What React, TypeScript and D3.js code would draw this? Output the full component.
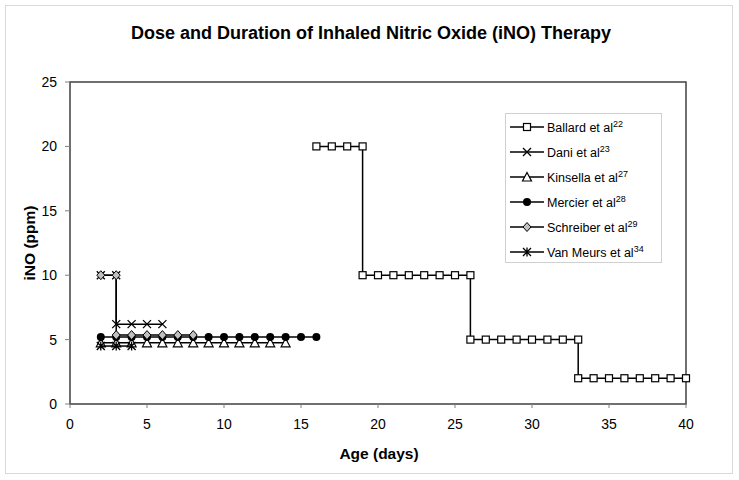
import React from "react";
import * as d3 from "d3";

const title = "Dose and Duration of Inhaled Nitric Oxide (iNO) Therapy";
const xTicks = [0, 5, 10, 15, 20, 25, 30, 35, 40];
const yTicks = [0, 5, 10, 15, 20, 25];

const ballardDays = [16, 17, 18, 19, 19, 20, 21, 22, 23, 24, 25, 26, 26, 27, 28, 29, 30, 31, 32, 33, 33, 34, 35, 36, 37, 38, 39, 40];
const ballardDose = [20, 20, 20, 20, 10, 10, 10, 10, 10, 10, 10, 10, 5, 5, 5, 5, 5, 5, 5, 5, 2, 2, 2, 2, 2, 2, 2, 2];
const daniDays = [2, 3, 3, 4, 5, 6];
const daniDose = [10, 10, 6.2, 6.2, 6.2, 6.2];
const kinsellaDays = [2, 3, 4, 5, 6, 7, 8, 9, 10, 11, 12, 13, 14];
const kinsellaDose = [4.75, 4.75, 4.75, 4.75, 4.75, 4.75, 4.75, 4.75, 4.75, 4.75, 4.75, 4.75, 4.75];
const mercierDays = [2, 3, 4, 5, 6, 7, 8, 9, 10, 11, 12, 13, 14, 15, 16];
const mercierDose = [5.2, 5.2, 5.2, 5.2, 5.2, 5.2, 5.2, 5.2, 5.2, 5.2, 5.2, 5.2, 5.2, 5.2, 5.2];
const schreiberDays = [2, 3, 3, 4, 5, 6, 7, 8];
const schreiberDose = [10, 10, 5.35, 5.35, 5.35, 5.35, 5.35, 5.35];
const vanMeursDays = [2, 3, 4];
const vanMeursDose = [4.5, 4.5, 4.5];

const seriesNames = ["Ballard et al", "Dani et al", "Kinsella et al", "Mercier et al", "Schreiber et al", "Van Meurs et al"];
const seriesRefs = ["22", "23", "27", "28", "29", "34"];
const seriesMarkers = ["square", "x", "triangle", "circle", "diamond", "star"];

const series = [
  { days: ballardDays, dose: ballardDose },
  { days: daniDays, dose: daniDose },
  { days: kinsellaDays, dose: kinsellaDose },
  { days: mercierDays, dose: mercierDose },
  { days: schreiberDays, dose: schreiberDose },
  { days: vanMeursDays, dose: vanMeursDose },
].map((s, i) => ({ ...s, name: seriesNames[i], ref: seriesRefs[i], marker: seriesMarkers[i] }));

const W = 739, H = 480;
const plot = { left: 70, right: 686, top: 82, bottom: 404 };
const FONT = "Liberation Sans, Arial, sans-serif";

function Marker({ type, x, y }: { type: string; x: number; y: number }) {
  const t = `translate(${x},${y})`;
  switch (type) {
    case "square":
      return <rect x={x - 3.5} y={y - 3.5} width={7} height={7} fill="#fff" stroke="#000" strokeWidth={1.2} />;
    case "x":
      return <path transform={t} d="M-4,-4L4,4M-4,4L4,-4" stroke="#000" strokeWidth={1.3} fill="none" />;
    case "triangle":
      return <path transform={t} d="M0,-4.5L4.5,4L-4.5,4Z" fill="#fff" stroke="#000" strokeWidth={1.2} />;
    case "circle":
      return <circle cx={x} cy={y} r={4} fill="#000" />;
    case "diamond":
      return <path transform={t} d="M0,-4.5L4,0L0,4.5L-4,0Z" fill="#c0c0c0" stroke="#000" strokeWidth={1} />;
    case "star":
      return <path transform={t} d="M-4,-4L4,4M-4,4L4,-4M0,-4.5L0,4.5" stroke="#000" strokeWidth={1.3} fill="none" />;
    default:
      return null;
  }
}

export default function App() {
  const x = d3.scaleLinear().domain([0, 40]).range([plot.left, plot.right]);
  const y = d3.scaleLinear().domain([0, 25]).range([plot.bottom, plot.top]);
  const line = d3.line<[number, number]>().x((d) => x(d[0])).y((d) => y(d[1]));

  const legend = { x: 505, y: 113, w: 156, h: 149, row: 25 };

  return (
    <svg width={W} height={H} style={{ position: "absolute", left: 0, top: 0 }} fontFamily={FONT}>
      <rect x={0} y={0} width={W} height={H} fill="#fff" />
      <rect x={5.5} y={5.5} width={727} height={468} fill="none" stroke="#d9d9d9" strokeWidth={1} />
      <text x={371} y={39} textAnchor="middle" fontSize={18} fontWeight="bold">{title}</text>

      <rect x={plot.left} y={plot.top} width={plot.right - plot.left} height={plot.bottom - plot.top} fill="none" stroke="#404040" strokeWidth={1.5} />

      {yTicks.map((t) => (
        <g key={"y" + t}>
          <line x1={plot.left - 5} x2={plot.left} y1={y(t)} y2={y(t)} stroke="#808080" strokeWidth={1} />
          <text x={57} y={y(t)} dy="0.36em" textAnchor="end" fontSize={14}>{t}</text>
        </g>
      ))}
      {xTicks.map((t) => (
        <g key={"x" + t}>
          <line x1={x(t)} x2={x(t)} y1={plot.bottom} y2={plot.bottom + 4} stroke="#808080" strokeWidth={1} />
          <text x={x(t)} y={429} textAnchor="middle" fontSize={14}>{t}</text>
        </g>
      ))}
      <text x={379} y={459} textAnchor="middle" fontSize={15.5} fontWeight="bold">Age (days)</text>
      <text transform={`translate(35,${(plot.top + plot.bottom) / 2}) rotate(-90)`} textAnchor="middle" fontSize={15.5} fontWeight="bold">iNO (ppm)</text>

      {series.map((s) => {
        const pts = s.days.map((d, i) => [d, s.dose[i]] as [number, number]);
        return (
          <g key={s.name}>
            <path d={line(pts) || ""} fill="none" stroke="#000" strokeWidth={1.5} />
            {pts.map((p, i) => (
              <Marker key={i} type={s.marker} x={x(p[0])} y={y(p[1])} />
            ))}
          </g>
        );
      })}

      <rect x={legend.x + 0.5} y={legend.y + 0.5} width={legend.w} height={legend.h} fill="#fff" stroke="#d0d0d0" strokeWidth={1} />
      {series.map((s, i) => {
        const ly = legend.y + 14 + i * legend.row;
        return (
          <g key={"lg" + s.name}>
            <line x1={510} x2={544} y1={ly} y2={ly} stroke="#000" strokeWidth={1.5} />
            <Marker type={s.marker} x={527} y={ly} />
            <text x={547} y={ly} dy="0.36em" fontSize={12.5}>
              {s.name}
              <tspan fontSize={9} dy="-0.5em">{s.ref}</tspan>
            </text>
          </g>
        );
      })}
    </svg>
  );
}
